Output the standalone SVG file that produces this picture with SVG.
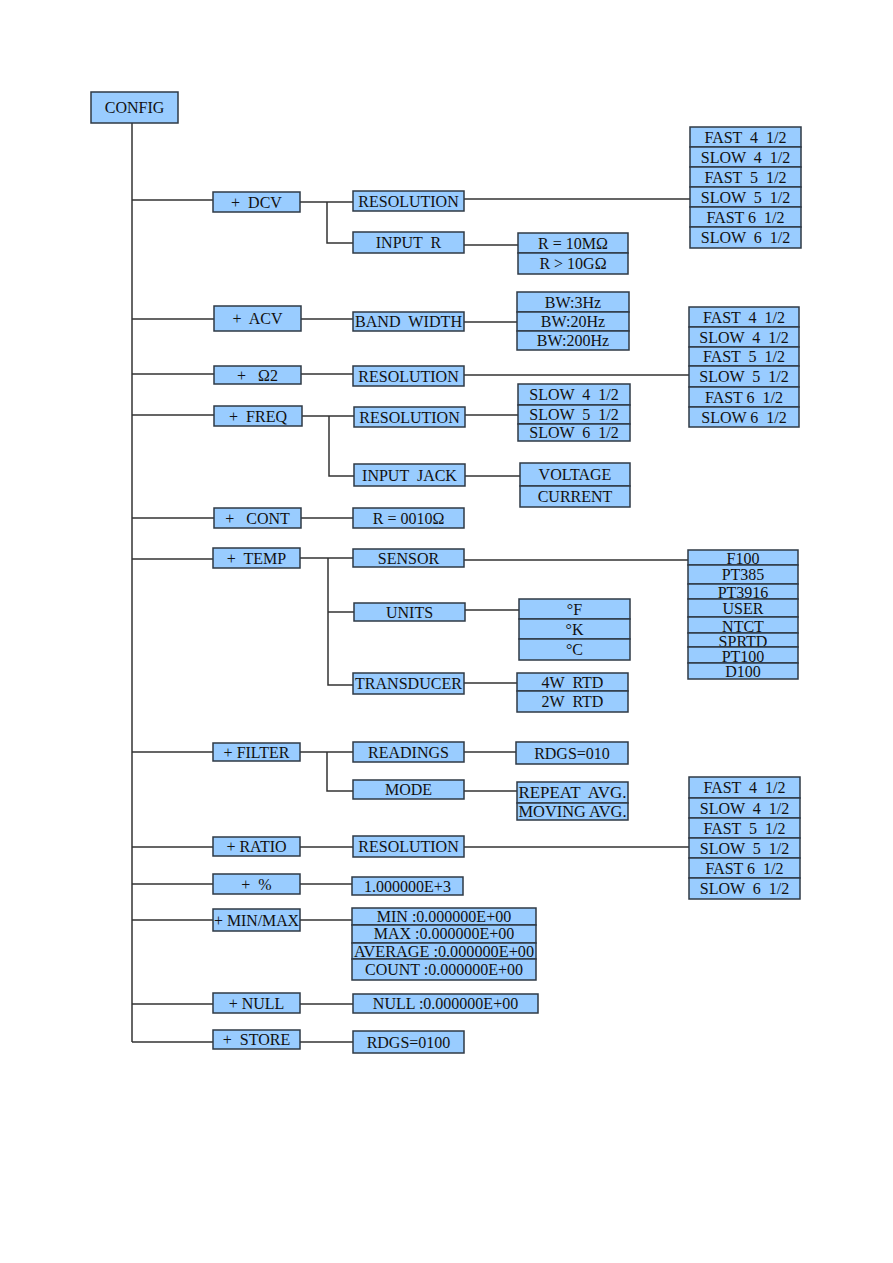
<svg xmlns="http://www.w3.org/2000/svg" width="893" height="1263" viewBox="0 0 893 1263">
<style>
.b{fill:#99ccff;stroke:#2f3a45;stroke-width:1.5}
.t{font-family:"Liberation Serif","Times New Roman",serif;font-size:16px;fill:#111;text-anchor:middle;white-space:pre}
.s{font-size:15px}
.c{fill:none;stroke:#333;stroke-width:1.5}
</style>
<rect width="893" height="1263" fill="#fff"/>
<g id="connectors" class="c">
<path d="M132 123V1042"/>
<path d="M132 200H213M132 319H214M132 374H214M132 415H214M132 518H214M132 559H213M132 752H213M132 847H213M132 884H213M132 920H213M132 1004H213M132 1042H213"/>
<path d="M300 202H353M327 202V243H353M464 199H690M464 245H518"/>
<path d="M301 319H353M464 322H517"/>
<path d="M301 374H353M464 375H689"/>
<path d="M302 416H354M329 416V476H354M465 415H518M465 476H520"/>
<path d="M301 518H353"/>
<path d="M300 558H353M328 558V685H353M328 612H354M464 560H688M465 610H519M464 683H517"/>
<path d="M300 752H353M327 752V791H353M464 752H516M464 791H517"/>
<path d="M300 847H353M464 847H689"/>
<path d="M300 884H352"/>
<path d="M300 920H352"/>
<path d="M300 1004H353"/>
<path d="M300 1042H353"/>
</g>
<g id="config"><rect class="b" x="91" y="92" width="87" height="31"/><text class="t" x="134.5" y="113">CONFIG</text></g>

<g id="dcv"><rect class="b" x="213" y="192" width="87" height="20"/><text class="t" x="256.5" y="207.5">+  DCV</text></g>
<g id="acv"><rect class="b" x="214" y="306" width="87" height="25"/><text class="t" x="257.5" y="324">+  ACV</text></g>
<g id="ohm2"><rect class="b" x="214" y="366" width="87" height="18"/><text class="t" x="257.5" y="380.5">+   Ω2</text></g>
<g id="freq"><rect class="b" x="214" y="406" width="88" height="20"/><text class="t" x="258" y="421.5">+  FREQ</text></g>
<g id="cont"><rect class="b" x="214" y="508" width="87" height="20"/><text class="t" x="257.5" y="523.5">+   CONT</text></g>
<g id="temp"><rect class="b" x="213" y="548" width="87" height="20"/><text class="t" x="256.5" y="563.5">+  TEMP</text></g>
<g id="filter"><rect class="b" x="213" y="743" width="87" height="18"/><text class="t" x="256.5" y="757.5">+ FILTER</text></g>
<g id="ratio"><rect class="b" x="213" y="837" width="87" height="19"/><text class="t" x="256.5" y="852">+ RATIO</text></g>
<g id="percent"><rect class="b" x="213" y="874" width="87" height="20"/><text class="t" x="256.5" y="889.5">+  %</text></g>
<g id="minmax"><rect class="b" x="213" y="909" width="87" height="22"/><text class="t" x="256.5" y="925.5" textLength="85" lengthAdjust="spacingAndGlyphs">+ MIN/MAX</text></g>
<g id="null"><rect class="b" x="213" y="993" width="87" height="20"/><text class="t" x="256.5" y="1008.5">+ NULL</text></g>
<g id="store"><rect class="b" x="213" y="1030" width="87" height="19"/><text class="t" x="256.5" y="1045">+  STORE</text></g>

<g id="dcv-resolution"><rect class="b" x="353" y="191" width="111" height="20"/><text class="t" x="408.5" y="206.5">RESOLUTION</text></g>
<g id="dcv-inputr"><rect class="b" x="353" y="232" width="111" height="21"/><text class="t" x="408.5" y="248">INPUT  R</text></g>
<g id="acv-bandwidth"><rect class="b" x="353" y="312" width="111" height="19"/><text class="t" x="408.5" y="327" textLength="107" lengthAdjust="spacingAndGlyphs">BAND  WIDTH</text></g>
<g id="ohm2-resolution"><rect class="b" x="353" y="366" width="111" height="20"/><text class="t" x="408.5" y="381.5">RESOLUTION</text></g>
<g id="freq-resolution"><rect class="b" x="354" y="407" width="111" height="20"/><text class="t" x="409.5" y="422.5">RESOLUTION</text></g>
<g id="freq-inputjack"><rect class="b" x="354" y="464" width="111" height="22"/><text class="t" x="409.5" y="480.5">INPUT  JACK</text></g>
<g id="cont-value"><rect class="b" x="353" y="508" width="111" height="20"/><text class="t" x="408.5" y="523.5">R = 0010Ω</text></g>
<g id="temp-sensor"><rect class="b" x="353" y="549" width="111" height="18"/><text class="t" x="408.5" y="563.5">SENSOR</text></g>
<g id="temp-units"><rect class="b" x="354" y="603" width="111" height="18"/><text class="t" x="409.5" y="617.5">UNITS</text></g>
<g id="temp-transducer"><rect class="b" x="353" y="673" width="111" height="21"/><text class="t" x="408.5" y="689" textLength="107" lengthAdjust="spacingAndGlyphs">TRANSDUCER</text></g>
<g id="filter-readings"><rect class="b" x="353" y="742" width="111" height="20"/><text class="t" x="408.5" y="757.5">READINGS</text></g>
<g id="filter-mode"><rect class="b" x="353" y="780" width="111" height="19"/><text class="t" x="408.5" y="795">MODE</text></g>
<g id="ratio-resolution"><rect class="b" x="353" y="836" width="111" height="21"/><text class="t" x="408.5" y="852">RESOLUTION</text></g>
<g id="percent-value"><rect class="b" x="352" y="877" width="111" height="18"/><text class="t" x="407.5" y="891.5">1.000000E+3</text></g>
<g id="minmax-values">
<rect class="b" x="352" y="908" width="184" height="17"/><text class="t" x="444" y="922">MIN :0.000000E+00</text>
<rect class="b" x="352" y="925" width="184" height="18"/><text class="t" x="444" y="939">MAX :0.000000E+00</text>
<rect class="b" x="352" y="943" width="184" height="16"/><text class="t" x="444" y="957" textLength="180" lengthAdjust="spacingAndGlyphs">AVERAGE :0.000000E+00</text>
<rect class="b" x="352" y="959" width="184" height="21"/><text class="t" x="444" y="975">COUNT :0.000000E+00</text>
</g>
<g id="null-value"><rect class="b" x="353" y="994" width="185" height="19"/><text class="t" x="445.5" y="1009">NULL :0.000000E+00</text></g>
<g id="store-value"><rect class="b" x="353" y="1031" width="111" height="22"/><text class="t" x="408.5" y="1047.5">RDGS=0100</text></g>

<g id="inputr-values">
<rect class="b" x="518" y="233" width="110" height="20"/><text class="t" x="573" y="248.5">R = 10MΩ</text>
<rect class="b" x="518" y="253" width="110" height="21"/><text class="t" x="573" y="269">R &gt; 10GΩ</text>
</g>
<g id="bandwidth-values">
<rect class="b" x="517" y="292" width="112" height="20"/><text class="t" x="573" y="307.5">BW:3Hz</text>
<rect class="b" x="517" y="312" width="112" height="19"/><text class="t" x="573" y="327">BW:20Hz</text>
<rect class="b" x="517" y="331" width="112" height="19"/><text class="t" x="573" y="346">BW:200Hz</text>
</g>
<g id="freq-resolution-values">
<rect class="b" x="518" y="384" width="112" height="21"/><text class="t" x="574" y="400">SLOW  4  1/2</text>
<rect class="b" x="518" y="405" width="112" height="19"/><text class="t" x="574" y="420">SLOW  5  1/2</text>
<rect class="b" x="518" y="424" width="112" height="17"/><text class="t" x="574" y="438">SLOW  6  1/2</text>
</g>
<g id="inputjack-values">
<rect class="b" x="520" y="463" width="110" height="23"/><text class="t" x="575" y="480">VOLTAGE</text>
<rect class="b" x="520" y="486" width="110" height="21"/><text class="t" x="575" y="502">CURRENT</text>
</g>
<g id="units-values">
<rect class="b" x="519" y="599" width="111" height="20"/><text class="t" x="574.5" y="614.5">°F</text>
<rect class="b" x="519" y="619" width="111" height="20"/><text class="t" x="574.5" y="634.5">°K</text>
<rect class="b" x="519" y="639" width="111" height="21"/><text class="t" x="574.5" y="655">°C</text>
</g>
<g id="transducer-values">
<rect class="b" x="517" y="673" width="111" height="18"/><text class="t" x="572.5" y="687.5">4W  RTD</text>
<rect class="b" x="517" y="691" width="111" height="21"/><text class="t" x="572.5" y="707">2W  RTD</text>
</g>
<g id="readings-value"><rect class="b" x="516" y="742" width="112" height="22"/><text class="t" x="572" y="758.5">RDGS=010</text></g>
<g id="mode-values">
<rect class="b" x="517" y="782" width="111" height="21"/><text class="t" x="572.5" y="798" textLength="108" lengthAdjust="spacingAndGlyphs">REPEAT  AVG.</text>
<rect class="b" x="517" y="803" width="111" height="17"/><text class="t" x="572.5" y="817" textLength="108" lengthAdjust="spacingAndGlyphs">MOVING AVG.</text>
</g>

<g id="dcv-resolution-values">
<rect class="b" x="690" y="127" width="111" height="20"/><text class="t" x="745.5" y="142.5">FAST  4  1/2</text>
<rect class="b" x="690" y="147" width="111" height="20"/><text class="t" x="745.5" y="162.5">SLOW  4  1/2</text>
<rect class="b" x="690" y="167" width="111" height="20"/><text class="t" x="745.5" y="182.5">FAST  5  1/2</text>
<rect class="b" x="690" y="187" width="111" height="20"/><text class="t" x="745.5" y="202.5">SLOW  5  1/2</text>
<rect class="b" x="690" y="207" width="111" height="20"/><text class="t" x="745.5" y="222.5">FAST 6  1/2</text>
<rect class="b" x="690" y="227" width="111" height="21"/><text class="t" x="745.5" y="243">SLOW  6  1/2</text>
</g>
<g id="ohm2-resolution-values">
<rect class="b" x="689" y="307" width="110" height="20"/><text class="t" x="744" y="322.5">FAST  4  1/2</text>
<rect class="b" x="689" y="327" width="110" height="20"/><text class="t" x="744" y="342.5">SLOW  4  1/2</text>
<rect class="b" x="689" y="347" width="110" height="19"/><text class="t" x="744" y="362">FAST  5  1/2</text>
<rect class="b" x="689" y="366" width="110" height="21"/><text class="t" x="744" y="382">SLOW  5  1/2</text>
<rect class="b" x="689" y="387" width="110" height="20"/><text class="t" x="744" y="402.5">FAST 6  1/2</text>
<rect class="b" x="689" y="407" width="110" height="20"/><text class="t" x="744" y="422.5">SLOW 6  1/2</text>
</g>
<g id="sensor-values">
<rect class="b" x="688" y="550" width="110" height="15"/><text class="t" x="743" y="564">F100</text>
<rect class="b" x="688" y="565" width="110" height="19"/><text class="t" x="743" y="580">PT385</text>
<rect class="b" x="688" y="584" width="110" height="15"/><text class="t" x="743" y="598">PT3916</text>
<rect class="b" x="688" y="599" width="110" height="18"/><text class="t" x="743" y="613.5">USER</text>
<rect class="b" x="688" y="617" width="110" height="16"/><text class="t" x="743" y="631.5">NTCT</text>
<rect class="b" x="688" y="633" width="110" height="14"/><text class="t" x="743" y="646.5">SPRTD</text>
<rect class="b" x="688" y="647" width="110" height="16"/><text class="t" x="743" y="661.5">PT100</text>
<rect class="b" x="688" y="663" width="110" height="16"/><text class="t" x="743" y="677">D100</text>
</g>
<g id="ratio-resolution-values">
<rect class="b" x="689" y="777" width="111" height="21"/><text class="t" x="744.5" y="793">FAST  4  1/2</text>
<rect class="b" x="689" y="798" width="111" height="20"/><text class="t" x="744.5" y="813.5">SLOW  4  1/2</text>
<rect class="b" x="689" y="818" width="111" height="20"/><text class="t" x="744.5" y="833.5">FAST  5  1/2</text>
<rect class="b" x="689" y="838" width="111" height="20"/><text class="t" x="744.5" y="853.5">SLOW  5  1/2</text>
<rect class="b" x="689" y="858" width="111" height="20"/><text class="t" x="744.5" y="873.5">FAST 6  1/2</text>
<rect class="b" x="689" y="878" width="111" height="21"/><text class="t" x="744.5" y="894">SLOW  6  1/2</text>
</g>
</svg>
